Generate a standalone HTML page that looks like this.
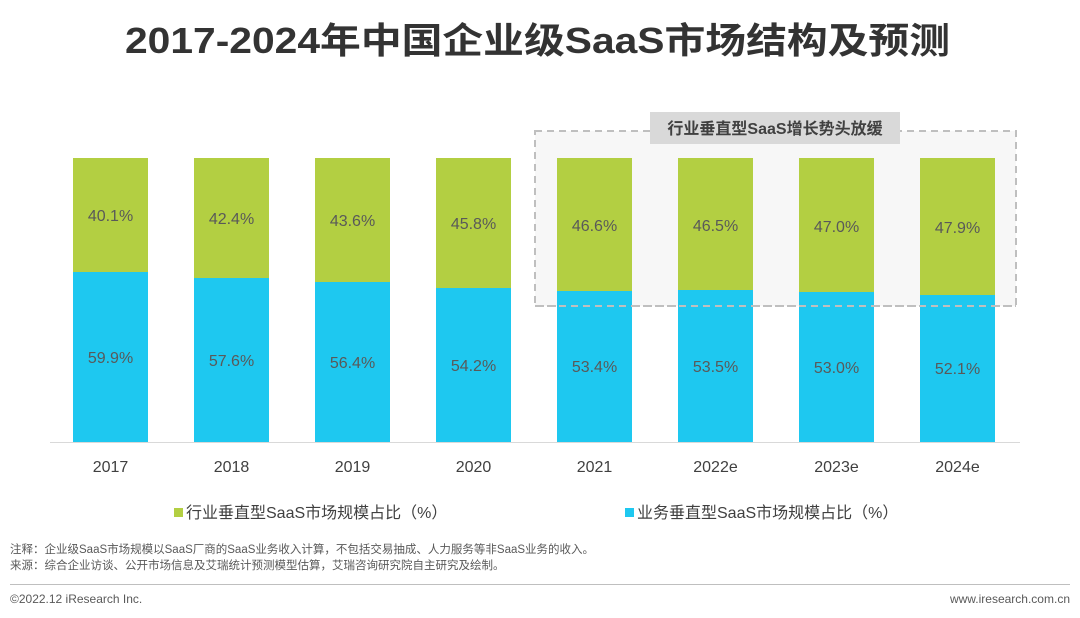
<!DOCTYPE html>
<html><head><meta charset="utf-8"><style>
body{margin:0;width:1080px;height:618px;background:#fff;overflow:hidden}
svg{display:block}
text{font-family:"Liberation Sans","Noto Sans CJK SC",sans-serif}
</style></head><body>
<svg width="1080" height="618" xmlns="http://www.w3.org/2000/svg">
<text x="125" y="53" font-size="36" font-weight="bold" fill="#333" textLength="825" lengthAdjust="spacingAndGlyphs">2017-2024年中国企业级SaaS市场结构及预测</text>
<rect x="535" y="131" width="481" height="175" fill="#f7f7f7" stroke="#bfbfbf" stroke-width="2" stroke-dasharray="7,5"/>
<rect x="650" y="112" width="250" height="32" fill="#d9d9d9"/>
<text x="775" y="134" text-anchor="middle" font-size="16" font-weight="bold" fill="#404040">行业垂直型SaaS增长势头放缓</text>
<g font-size="16" fill="#595959" text-anchor="middle">
<rect x="73" y="158" width="75" height="114" fill="#b3cf42"/><rect x="73" y="272" width="75" height="170" fill="#1ec8f0"/><text x="110.5" y="221">40.1%</text><text x="110.5" y="363">59.9%</text>
<rect x="194" y="158" width="75" height="120" fill="#b3cf42"/><rect x="194" y="278" width="75" height="164" fill="#1ec8f0"/><text x="231.5" y="224">42.4%</text><text x="231.5" y="366">57.6%</text>
<rect x="315" y="158" width="75" height="124" fill="#b3cf42"/><rect x="315" y="282" width="75" height="160" fill="#1ec8f0"/><text x="352.5" y="226">43.6%</text><text x="352.5" y="368">56.4%</text>
<rect x="436" y="158" width="75" height="130" fill="#b3cf42"/><rect x="436" y="288" width="75" height="154" fill="#1ec8f0"/><text x="473.5" y="229">45.8%</text><text x="473.5" y="371">54.2%</text>
<rect x="557" y="158" width="75" height="133" fill="#b3cf42"/><rect x="557" y="291" width="75" height="151" fill="#1ec8f0"/><text x="594.5" y="231">46.6%</text><text x="594.5" y="372">53.4%</text>
<rect x="678" y="158" width="75" height="132" fill="#b3cf42"/><rect x="678" y="290" width="75" height="152" fill="#1ec8f0"/><text x="715.5" y="231">46.5%</text><text x="715.5" y="372">53.5%</text>
<rect x="799" y="158" width="75" height="134" fill="#b3cf42"/><rect x="799" y="292" width="75" height="150" fill="#1ec8f0"/><text x="836.5" y="232">47.0%</text><text x="836.5" y="373">53.0%</text>
<rect x="920" y="158" width="75" height="137" fill="#b3cf42"/><rect x="920" y="295" width="75" height="147" fill="#1ec8f0"/><text x="957.5" y="233">47.9%</text><text x="957.5" y="374">52.1%</text>
</g>
<line x1="535" y1="306" x2="1016" y2="306" stroke="#bfbfbf" stroke-width="2" stroke-dasharray="7,5"/>
<line x1="50" y1="442.5" x2="1020" y2="442.5" stroke="#d9d9d9" stroke-width="1"/>
<g font-size="16" fill="#404040" text-anchor="middle">
<text x="110.5" y="472">2017</text><text x="231.5" y="472">2018</text><text x="352.5" y="472">2019</text><text x="473.5" y="472">2020</text><text x="594.5" y="472">2021</text><text x="715.5" y="472">2022e</text><text x="836.5" y="472">2023e</text><text x="957.5" y="472">2024e</text>
</g>
<rect x="174" y="508" width="9" height="9" fill="#b3cf42"/>
<text x="186" y="518" font-size="16" fill="#404040">行业垂直型SaaS市场规模占比（%）</text>
<rect x="625" y="508" width="9" height="9" fill="#1ec8f0"/>
<text x="637" y="518" font-size="16" fill="#404040">业务垂直型SaaS市场规模占比（%）</text>
<text x="10" y="553" font-size="11.5" fill="#595959">注释：企业级SaaS市场规模以SaaS厂商的SaaS业务收入计算，不包括交易抽成、人力服务等非SaaS业务的收入。</text>
<text x="10" y="569" font-size="11.5" fill="#595959">来源：综合企业访谈、公开市场信息及艾瑞统计预测模型估算，艾瑞咨询研究院自主研究及绘制。</text>
<line x1="10" y1="584.5" x2="1070" y2="584.5" stroke="#bfbfbf" stroke-width="1"/>
<text x="10" y="603" font-size="12" fill="#595959">©2022.12 iResearch Inc.</text>
<text x="1070" y="603" font-size="12" fill="#595959" text-anchor="end">www.iresearch.com.cn</text>
</svg>
</body></html>
